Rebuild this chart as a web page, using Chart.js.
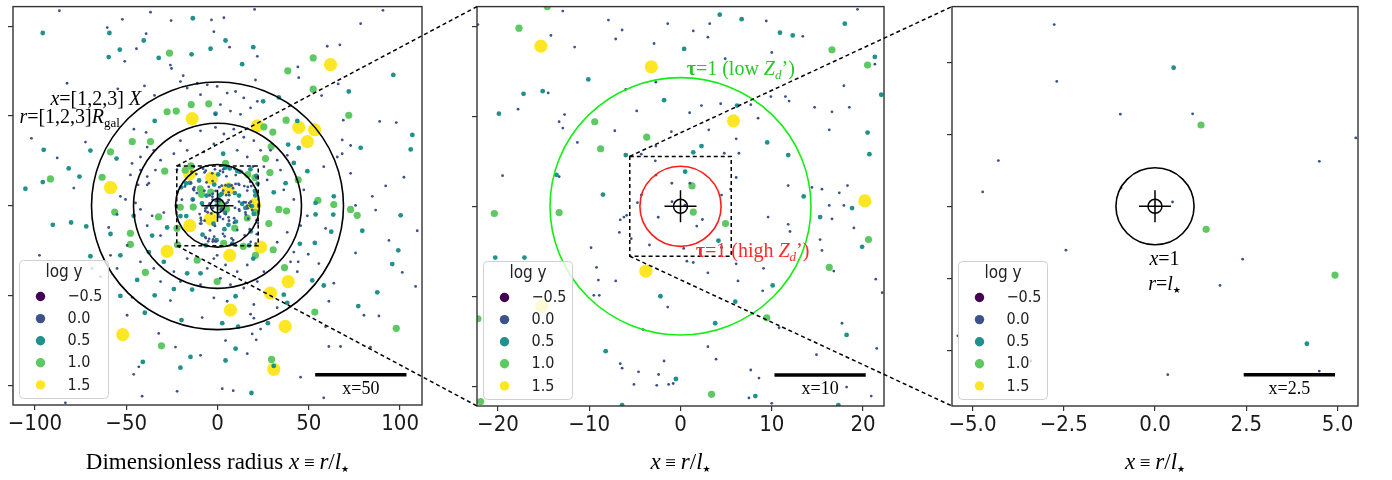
<!DOCTYPE html>
<html><head><meta charset="utf-8">
<script src="https://cdn.jsdelivr.net/npm/chart.js@4.4.1/dist/chart.umd.min.js"></script>
<style>
html,body{margin:0;padding:0;background:#fff;width:1392px;height:480px;overflow:hidden;position:relative}
canvas{position:absolute;top:0}
</style></head><body>
<canvas id="c1" width="469" height="480" style="left:-17px"></canvas>
<canvas id="c2" width="467" height="480" style="left:447px"></canvas>
<canvas id="c3" width="466" height="480" style="left:922px"></canvas>
<canvas id="ov" width="1392" height="480" style="left:0;pointer-events:none"></canvas>
<script>
// ---------------- DATA ----------------
const logLabels = ['−0.5', '0.0', '0.5', '1.0', '1.5'];
const legendTitle = 'log y';

// log y = -0.5 (none visible)
const pts_m05 = [];
// log y = 0.0
const pts_00 = [
 [-86.6,108.7],[-52.1,103.9],[-36.7,107.9],[-25.4,103.2],[-60.4,99.3],[-3.3,103.6],[-39.1,95.9],[-44.4,87.5],
 [-50.8,80.5],[-25.8,78.4],[-25.2,76.5],[-18.8,72.5],[-82.4,68.3],[-40.0,66.8],[-54.6,65.2],[-34.5,61.5],
 [-101.9,37.6],[-72.3,35.5],[-87.8,26.7],[-47.7,17.2],[-37.6,12.6],[-43.5,11.7],[-50.4,3.5],[-78.7,9.9],
 [20.3,109.4],[90.6,108.9],[78.4,101.5],[3.5,104.8],[-2.0,97.0],[6.6,88.4],[21.8,83.3],[60.1,88.9],
 [67.0,89.7],[44.0,77.4],[44.5,71.4],[20.8,70.1],[57.0,61.4],[66.1,67.9],[88.8,47.0],[97.9,46.4],
 [68.9,47.7],[68.3,36.7],[72.9,33.6],[68.3,29.0],[102.1,15.9],[92.1,11.1],[84.8,5.3],[72.9,18.1],
 [65.6,27.2],[58.2,21.8],
 [-97.5,-27.6],[-83.3,-109.8],[-68.7,-34.9],[-64.1,-39.5],[-49.5,-61.0],[-45.9,-93.9],[-43.1,-89.7],
 [-41.3,-106.1],[-22.1,-103.4],[-8.4,-62.3],[-25.8,-52.8],[-32.2,-71.1],[-23.0,-78.7],[-9.3,-83.3],
 [-46.7,-51.0],[-55.0,-4.8],[-59.6,-12.1],
 [75.6,-26.3],[101.2,-37.1],[88.4,-61.4],[80.2,-61.0],[67.4,-78.4],[61.0,-78.4],[83.8,-78.7],[59.2,-67.4],
 [108.5,-44.9],[109.4,-13.9],[93.9,-19.3],[86.6,-2.4],[2.6,-101.9],[8.6,-103.0],[45.5,-95.5],[58.2,-107.0],
 [19.9,-62.6],[23.6,-68.7],[19.0,-71.4],[63.7,-43.1],[61.0,-53.2],[49.7,-27.0],[44.2,-31.2],[4.4,-75.1],
 [21.2,-74.7],[16.3,-82.4],[55.5,-32.2],[59.2,-12.6],[75.6,0.2],
 [-45.8,42.7],[-39.1,40.9],[-38.5,32.7],[-34.9,30.9],[-42.2,27.2],[-46.8,23.6],[-42.2,19.9],[-38.5,16.3],
 [-34.0,19.9],[-31.2,25.4],[-20.3,36.3],[-16.6,30.9],[-23.9,29.0],[-9.3,41.8],[-7.5,30.0],[-2.0,34.5],
 [-20.3,69.2],[-16.6,65.6],[-11.1,68.3],[-5.6,67.4],[-9.3,61.9],[-1.1,51.0],[-38.5,11.7],[-53.2,5.3],
 [-44.9,1.6],
 [-0.2,66.5],[5.3,62.8],[9.9,63.7],[14.4,60.1],[1.6,56.4],[7.1,52.8],[12.6,51.0],[18.1,54.6],
 [21.8,58.2],[-1.1,43.7],[3.5,40.0],[8.9,42.7],[14.4,38.2],[19.9,36.3],[10.8,30.9],[16.3,27.2],
 [23.6,30.9],[32.7,25.4],[38.2,28.1],[29.0,30.9],[34.5,19.9],[25.4,21.8],[27.2,14.4],[36.3,8.9],
 [41.8,3.5],[47.3,8.9],
 [-42.2,-2.0],[-35.8,-5.6],[-29.4,-3.8],[-38.5,-11.1],[-31.2,-16.6],[-42.2,-31.2],[-34.9,-34.9],
 [-23.9,-36.7],[-20.3,-42.2],[-9.3,-44.0],[-5.6,-34.9],[-31.2,-42.2],[-55.0,-34.9],[-49.5,-22.1],
 [-58.6,-27.6],[-16.6,-29.4],[-2.0,-29.4],
 [-0.2,-27.6],[4.4,-33.0],[10.8,-36.7],[16.3,-33.0],[1.6,-40.4],[7.1,-44.0],[14.4,-45.8],[21.8,-42.2],
 [25.4,-36.7],[-2.0,-51.3],[5.3,-53.2],[19.9,-55.0],[32.7,-56.8],[18.1,-60.4],[40.0,-31.2],[43.7,-36.7],
 [41.8,-25.8],[32.7,-20.3],[38.2,-14.8],[45.5,-11.1],[49.2,-5.6],
 [-12.9,21.7],[-22.2,20.2],[-7.9,20.7],[-6.4,19.6],[-7.1,18.6],[-1.4,20.3],[-14.2,19.0],[-11.6,17.7],
 [-2.9,18.1],[-14.5,12.6],[-17.8,10.8],[-12.7,10.2],[-13.3,9.4],[-12.9,8.7],[-11.3,7.1],[-7.2,8.4],
 [-4.8,10.6],[-2.7,13.8],[-6.0,13.0],[-19.5,3.4],[-13.3,3.3],[-1.0,8.3],[-2.7,6.7],[-4.3,5.8],
 [19.4,21.9],[9.4,20.6],[3.2,20.3],[1.4,19.5],[3.0,18.8],[13.4,18.9],[10.0,17.1],[4.9,16.4],
 [21.3,15.8],[17.9,13.4],[9.9,12.2],[11.5,12.2],[11.9,11.7],[7.7,11.3],[2.3,11.2],[1.0,10.4],
 [4.4,11.4],[14.7,11.0],[16.6,10.5],[18.5,11.0],[8.5,9.8],[3.1,8.5],[6.1,7.5],[16.3,8.5],
 [6.4,5.9],[4.8,5.9],[6.1,3.2],[5.5,1.9],[11.8,2.3],[14.4,2.1],[15.5,1.9],[17.4,1.5],[18.3,2.3],
 [16.3,0.1],[17.9,0.1],
 [-6.6,-1.5],[-6.2,-1.2],[-5.9,-1.0],[-6.7,-2.9],[-3.4,-4.3],[-9.8,-4.6],[-9.2,-6.8],[-9.0,-8.2],
 [-7.1,-8.3],[-9.5,-9.9],[-8.9,-9.9],[-1.4,-11.2],[-4.1,-13.7],[-6.6,-17.5],[-6.4,-18.0],[-4.6,-18.4],
 [-1.8,-17.2],[-2.4,-18.7],[-5.1,-19.8],[-2.6,-19.9],[-1.3,-19.8],[-0.8,-19.7],
 [16.6,-1.4],[11.8,-2.0],[12.0,-2.8],[9.6,-1.2],[19.0,-2.4],[15.3,-3.7],[15.5,-4.9],[16.8,-7.2],
 [21.4,-8.1],[22.1,-9.6],[9.1,-6.9],[6.3,-8.3],[3.0,-7.4],[6.1,-6.4],[0.7,-6.1],[1.4,-6.25],
 [9.0,-9.4],[10.8,-13.5],[17.7,-13.0],[21.5,-15.8],[14.9,-16.5],[3.0,-15.6],[3.9,-17.0],[7.7,-18.2],
 [8.6,-19.1],[18.2,-20.1],[20.9,-21.1],[7.5,-21.3],[10.0,-21.9],
 [-2.76,5.05],[-2.69,3.47],[-0.95,2.56],[1.03,2.57],[-4.29,1.27],[-4.72,0.40],[-0.93,0.51],[0.48,0.12],
 [-2.44,-1.22],[2.40,-1.47],[1.78,-2.2],[4.50,1.25],[0.35,-4.68],[4.50,-4.58],[-5.4,-3.6]
];
// log y = 0.5
const pts_05 = [
 [-95.7,96.3],[-59.2,96.3],[-40.4,92.1],[-13.5,104.5],[-59.6,82.9],[-53.5,87.0],[-32.2,82.4],[-14.2,84.4],
 [-3.8,87.5],[-95.2,31.2],[-81.5,20.8],[-95.7,13.2],[-75.6,16.3],[-105.2,9.5],[-69.6,30.8],[-55.3,26.3],
 [-34.4,47.3],
 [4.4,92.1],[19.6,88.4],[13.5,78.9],[96.3,72.9],[71.9,63.7],[33.6,60.4],[25.0,58.2],[106.7,39.5],
 [105.8,31.4],[78.4,32.3],[44.5,32.2],[38.7,34.1],[43.7,47.3],[49.2,19.3],[41.8,23.9],[37.3,12.6],
 [30.8,7.5],[3.1,29.0],[-1.1,51.3],[63.7,5.3],[53.7,1.6],
 [-90.2,-10.6],[-80.2,-9.3],[-71.9,-11.5],[-69.6,-28.1],[-53.2,-27.6],[-53.2,-50.2],[-44.0,-41.3],
 [-40.9,-87.0],[-39.8,-59.6],[-34.4,-49.9],[-20.3,-90.2],[-14.8,-84.2],[-19.7,-63.7],[-23.9,-46.4],
 [-13.9,-46.7],[-35.8,-16.6],[-27.6,-12.1],[-58.6,-15.7],[-45.9,-5.6],[-29.4,-31.2],[-16.6,-37.6],
 [-9.3,-37.6],[-37.6,-25.8],
 [100.3,-5.3],[79.3,-13.9],[99.0,-24.8],[95.7,-32.5],[87.5,-48.2],[77.1,-55.9],[53.3,-20.7],[45.1,-21.2],
 [53.7,-4.8],[63.4,-4.9],[62.3,-14.4],[51.9,-41.6],[58.2,-44.4],[36.3,-49.5],[27.6,-65.4],[2.6,-65.4],
 [11.3,-67.4],[9.9,-79.6],[4.4,-86.2],[30.8,-89.2],[18.6,-104.3],[9.9,-50.4],[38.2,-54.1],[19.6,-29.4],
 [-10.1,14.1],[-17.2,12.5],[-15.1,12.8],[-19.9,10.3],[-1.8,11.8],[-6.0,5.7],[-13.6,3.5],[-8.5,1.3],
 [4.3,21.3],[6.7,20.8],[18.0,20.3],[10.9,19.3],[12.3,19.0],[0.4,17.5],[21.3,16.6],[22.0,12.4],
 [6.2,11.2],[20.5,8.2],[9.5,7.1],[11.8,5.7],[20.7,5.8],[2.3,6.7],[1.4,6.0],[13.5,1.1],
 [-20.3,-5.7],[-17.1,-5.7],[-2.2,-10.0],[-8.2,-16.1],[-0.5,-19.2],[-6.4,-22.1],[18.8,-0.2],[15.3,-1.2],
 [19.9,-4.5],[10.1,-8.8],[6.0,-10.6],[3.8,-13.0],[18.2,-14.3],[8.2,-21.1],[17.3,-22.1],
 [0.51,3.85],[4.16,-3.82]
];
// log y = 1.0
const pts_10 = [
 [-26.3,85.1],[-14.4,56.4],[-4.8,56.8],[-27.6,52.4],[-22.6,52.8],[-46.7,35.8],[-36.7,35.8],[-58.6,30.0],
 [-91.5,15.0],[-63.2,15.9],[-28.9,19.3],
 [52.4,82.4],[38.5,75.2],[52.4,65.0],[71.9,50.4],[37.6,47.7],[30.3,41.1],[25.4,44.0],[29.4,33.0],
 [26.3,26.3],[28.7,18.5],[44.2,14.4],[4.4,23.6],[55.0,3.1],[63.7,0.7],
 [-56.3,-3.5],[-47.7,-15.3],[-47.7,-21.5],[-39.5,-37.1],[-30.7,-78.0],[-32.3,-6.2],[-11.1,-30.3],[-0.2,-42.2],
 [33.6,-2.0],[37.8,-2.9],[72.9,-2.0],[76.5,-5.3],[28.1,-9.9],[30.5,-24.5],[20.8,-27.6],[14.1,-22.6],
 [36.7,-34.4],[53.3,-59.2],[97.9,-68.3],[29.6,-85.6],
 [-14.6,22.2],[-17.7,19.8],[-9.4,9.4],[-8.75,6.4],[-3.7,7.7],[16.6,17.4],[20.5,15.7],[-20.4,-0.8],
 [-13.3,-0.7],[-22.2,-12.5],[-21.9,-21.7],[20.6,-3.7],[16.3,-6.8],[9.45,-12.4],[3.4,-20.9],
 [1.26,2.26],[1.4,-0.64],[4.93,-1.91]
];
// log y = 1.5
const pts_15 = [
 [-13.9,48.6],[-58.6,10.2],[61.9,78.7],[44.5,43.7],[53.2,42.4],[49.2,35.8],[21.8,44.5],[-51.9,-71.8],
 [-27.6,-25.4],[38.7,-42.2],[29.0,-48.6],[7.1,-58.1],[37.1,-67.2],[30.8,-91.1],[23.6,-23.0],[6.7,-27.6],
 [-15.3,17.8],[-3.2,15.5],[5.8,9.5],[20.2,0.6],[-3.8,-7.2],[-15.2,-11.1]
];

// tick values
const xTicks1 = [-100, -50, 0, 50, 100], yTicks1 = [-100, -50, 0, 50, 100];
const xTicks2 = [-20, -10, 0, 10, 20],   yTicks2 = [-20, -10, 0, 10, 20];
const xTicks3 = [-5, -2.5, 0, 2.5, 5],   yTicks3 = [-4, -2, 0, 2, 4];

// ---------------- STYLE ----------------
const allPts = [pts_m05, pts_00, pts_05, pts_10, pts_15];
const logColors = ['#440154', '#3b528b', '#21918c', '#5ec962', '#fde725'];
const markerR = [1.0, 1.4, 2.4, 3.6, 6.6];
const SERIF = '"Liberation Serif", "DejaVu Serif", serif';
const SANS = '"DejaVu Sans Condensed", "DejaVu Sans", sans-serif';
const f = (sz, st) => (st ? st + ' ' : '') + sz + 'px ' + SERIF;
const STAR = (sz) => sz + 'px "DejaVu Sans", sans-serif';

function fmt(v, dec) {
  const s = Math.abs(v).toFixed(dec);
  return (v < 0 ? '−' : '') + s;
}

function rich(ctx, parts, x, y, align) {
  let w = 0;
  for (const p of parts) { ctx.font = p[1]; w += ctx.measureText(p[0]).width; }
  let cx = align === 'center' ? x - w / 2 : (align === 'right' ? x - w : x);
  ctx.textAlign = 'left'; ctx.textBaseline = 'alphabetic';
  for (const p of parts) {
    ctx.font = p[1]; ctx.fillStyle = p[3] || '#000';
    ctx.fillText(p[0], cx, y + (p[2] || 0));
    cx += ctx.measureText(p[0]).width;
  }
}

const deco = {
  id: 'deco',
  afterDatasetsDraw(chart, args, o) {
    const ctx = chart.ctx, xs = chart.scales.x, ys = chart.scales.y, ca = chart.chartArea;
    const px = v => xs.getPixelForValue(v), py = v => ys.getPixelForValue(v);
    ctx.save();
    ctx.beginPath(); ctx.rect(ca.left, ca.top, ca.right - ca.left, ca.bottom - ca.top); ctx.clip();
    for (const c of o.circles) {
      ctx.beginPath();
      ctx.ellipse(px(0), py(0), Math.abs(px(c.r) - px(0)), Math.abs(py(c.r) - py(0)), 0, 0, Math.PI * 2);
      ctx.strokeStyle = c.color; ctx.lineWidth = 1.6; ctx.stroke();
    }
    if (o.box) {
      ctx.setLineDash([4, 3]); ctx.strokeStyle = '#000'; ctx.lineWidth = 1.5;
      ctx.strokeRect(px(o.box[0]), py(o.box[3]), px(o.box[1]) - px(o.box[0]), py(o.box[2]) - py(o.box[3]));
      ctx.setLineDash([]);
    }
    const cx = px(0), cy = py(0);
    ctx.strokeStyle = '#000'; ctx.lineWidth = 1.5;
    ctx.beginPath(); ctx.arc(cx, cy, 7, 0, Math.PI * 2); ctx.stroke();
    ctx.beginPath(); ctx.moveTo(cx - 16, cy); ctx.lineTo(cx + 16, cy); ctx.moveTo(cx, cy - 16); ctx.lineTo(cx, cy + 16); ctx.stroke();
    const b = o.bar;
    ctx.beginPath(); ctx.moveTo(px(b.x0), py(b.y)); ctx.lineTo(px(b.x1), py(b.y));
    ctx.lineWidth = 3.5; ctx.strokeStyle = '#000'; ctx.stroke();
    rich(ctx, [[b.label, f(18)]], (px(b.x0) + px(b.x1)) / 2, py(b.y) + 19, 'center');
    for (const a of o.notes) rich(ctx, a.parts, px(a.x), py(a.y), a.align);
    ctx.restore();
  },
  afterDraw(chart, args, o) {
    const ctx = chart.ctx, ca = chart.chartArea;
    ctx.save();
    ctx.strokeStyle = '#333'; ctx.lineWidth = 1.4;
    ctx.strokeRect(ca.left, ca.top, ca.right - ca.left, ca.bottom - ca.top);
    const w = 89, h = 138, x0 = ca.left + 6.5, y0 = ca.bottom - 6.5 - h, r = 4;
    ctx.beginPath();
    ctx.moveTo(x0 + r, y0); ctx.lineTo(x0 + w - r, y0); ctx.arcTo(x0 + w, y0, x0 + w, y0 + r, r);
    ctx.lineTo(x0 + w, y0 + h - r); ctx.arcTo(x0 + w, y0 + h, x0 + w - r, y0 + h, r);
    ctx.lineTo(x0 + r, y0 + h); ctx.arcTo(x0, y0 + h, x0, y0 + h - r, r);
    ctx.lineTo(x0, y0 + r); ctx.arcTo(x0, y0, x0 + r, y0, r); ctx.closePath();
    ctx.fillStyle = 'rgba(255,255,255,0.8)'; ctx.fill();
    ctx.strokeStyle = '#d0d0d0'; ctx.lineWidth = 1; ctx.stroke();
    ctx.fillStyle = '#222'; ctx.textBaseline = 'middle'; ctx.textAlign = 'center';
    ctx.font = '17px ' + SANS;
    ctx.fillText(legendTitle, x0 + w / 2, y0 + 12.5);
    ctx.textAlign = 'left'; ctx.font = '16px ' + SANS;
    chart.data.datasets.forEach((ds, i) => {
      const yy = y0 + 36 + 22.1 * i;
      ctx.beginPath(); ctx.arc(x0 + 21, yy, 4.7, 0, Math.PI * 2); ctx.fillStyle = ds.backgroundColor; ctx.fill();
      ctx.fillStyle = '#222'; ctx.fillText(ds.label, x0 + 48, yy + 0.5);
    });
    rich(ctx, o.title, (ca.left + ca.right) / 2, 469, 'center');
    ctx.restore();
  }
};

function titleParts(prefix) {
  const p = [];
  if (prefix) p.push([prefix, f(23)]);
  p.push(['x', f(23, 'italic')], [' ≡ ', f(19)], ['r', f(23, 'italic')], ['/', f(23)], ['l', f(23, 'italic')], ['★', STAR(9), 3]);
  return p;
}

function makePanel(id, cfg) {
  return new Chart(document.getElementById(id), {
    type: 'scatter',
    data: {
      datasets: logLabels.map((lab, i) => ({
        label: lab,
        data: allPts[i].map(p => ({ x: p[0], y: p[1] })),
        backgroundColor: logColors[i], borderWidth: 0,
        pointRadius: markerR[i], pointHoverRadius: markerR[i]
      }))
    },
    options: {
      responsive: false, animation: false, devicePixelRatio: 1, events: [],
      layout: { padding: { left: 0, right: 30, top: 1, bottom: 0 } },
      plugins: { legend: { display: false }, tooltip: { enabled: false }, deco: cfg },
      scales: {
        x: {
          type: 'linear', min: cfg.xr[0], max: cfg.xr[1],
          afterBuildTicks: s => { s.ticks = cfg.xticks.map(v => ({ value: v })); },
          ticks: { font: { family: '"DejaVu Sans Condensed", "DejaVu Sans"', size: 22 }, color: '#1a1a1a', padding: 1, maxRotation: 0, autoSkip: false,
                   callback: v => fmt(v, cfg.dec) },
          grid: { drawOnChartArea: false, drawTicks: true, tickLength: 5, color: '#333', lineWidth: 1.2 },
          border: { display: false },
          afterFit: s => { s.height = cfg.bottomH; }
        },
        y: {
          type: 'linear', min: cfg.yr[0], max: cfg.yr[1],
          afterBuildTicks: s => { s.ticks = cfg.yticks.map(v => ({ value: v })); },
          ticks: { display: false },
          grid: { drawOnChartArea: false, drawTicks: true, tickLength: 5, color: '#333', lineWidth: 1.2 },
          border: { display: false },
          afterFit: s => { s.width = 30; }
        }
      }
    },
    plugins: [deco]
  });
}

const range1 = { x: [-112, 112], y: [-111, 111] };
const range2 = { x: [-22.3, 22.3], y: [-22.2, 22.2] };
const range3 = { x: [-5.56, 5.56], y: [-5.55, 5.55] };
const GREEN = '#28c828', RED = '#ff2a2a';

const ch1 = makePanel('c1', {
  xr: range1.x, yr: range1.y, xticks: xTicks1, yticks: yTicks1, dec: 0, bottomH: 75,
  circles: [{ r: 23, color: '#000' }, { r: 46, color: '#000' }, { r: 69, color: '#000' }],
  box: [range2.x[0], range2.x[1], range2.y[0], range2.y[1]],
  bar: { x0: 53.5, x1: 103.5, y: -94.2, label: 'x=50' },
  notes: [
    { x: -91.5, y: 56.4, align: 'left', parts: [['x', f(20, 'italic')], ['=[1,2,3] ', f(20)], ['X', f(20, 'italic')]] },
    { x: -108.5, y: 46.0, align: 'left', parts: [['r', f(20, 'italic')], ['=[1,2,3]', f(20)], ['R', f(20, 'italic')], ['gal', f(13), 4]] }
  ],
  title: titleParts('Dimensionless radius ')
});
const ch2 = makePanel('c2', {
  xr: range2.x, yr: range2.y, xticks: xTicks2, yticks: yTicks2, dec: 0, bottomH: 74,
  circles: [{ r: 14.3, color: '#14ee14' }, { r: 4.45, color: '#ff1c1c' }],
  box: [range3.x[0], range3.x[1], range3.y[0], range3.y[1]],
  bar: { x0: 10.3, x1: 20.3, y: -18.75, label: 'x=10' },
  notes: [
    { x: 0.68, y: 14.6, align: 'left', parts: [['τ', f(20, 'bold'), 0, GREEN], ['=1 (low ', f(20), 0, GREEN], ['Z', f(20, 'italic'), 0, GREEN], ['d', f(13, 'italic'), 4, GREEN], ['’)', f(20), 0, GREEN]] },
    { x: 1.67, y: -5.6, align: 'left', parts: [['τ', f(20, 'bold'), 0, RED], ['=1 (high ', f(20), 0, RED], ['Z', f(20, 'italic'), 0, RED], ['d', f(13, 'italic'), 4, RED], ['’)', f(20), 0, RED]] }
  ],
  title: titleParts('')
});
const ch3 = makePanel('c3', {
  xr: range3.x, yr: range3.y, xticks: xTicks3, yticks: yTicks3, dec: 1, bottomH: 74,
  circles: [{ r: 1.07, color: '#000' }],
  box: null,
  bar: { x0: 2.43, x1: 4.93, y: -4.68, label: 'x=2.5' },
  notes: [
    { x: 0.26, y: -1.62, align: 'center', parts: [['x', f(20, 'italic')], ['=1', f(20)]] },
    { x: 0.26, y: -2.33, align: 'center', parts: [['r', f(20, 'italic')], ['=', f(20)], ['l', f(20, 'italic')], ['★', STAR(9), 3]] }
  ],
  title: titleParts('')
});

// connector lines between panels
(function () {
  const ov = document.getElementById('ov').getContext('2d');
  const L = { c1: -17, c2: 447, c3: 922 };
  function link(chA, offA, box, chB, offB) {
    const xa = offA + chA.scales.x.getPixelForValue(box.x[0]);
    const yTop = chA.scales.y.getPixelForValue(box.y[1]);
    const yBot = chA.scales.y.getPixelForValue(box.y[0]);
    const ca = chB.chartArea;
    ov.setLineDash([4, 3]); ov.strokeStyle = '#000'; ov.lineWidth = 1.5;
    ov.beginPath();
    ov.moveTo(xa, yTop); ov.lineTo(offB + ca.left, ca.top);
    ov.moveTo(xa, yBot); ov.lineTo(offB + ca.left, ca.bottom);
    ov.stroke();
  }
  link(ch1, L.c1, range2, ch2, L.c2);
  link(ch2, L.c2, range3, ch3, L.c3);
})();
</script>
</body></html>
